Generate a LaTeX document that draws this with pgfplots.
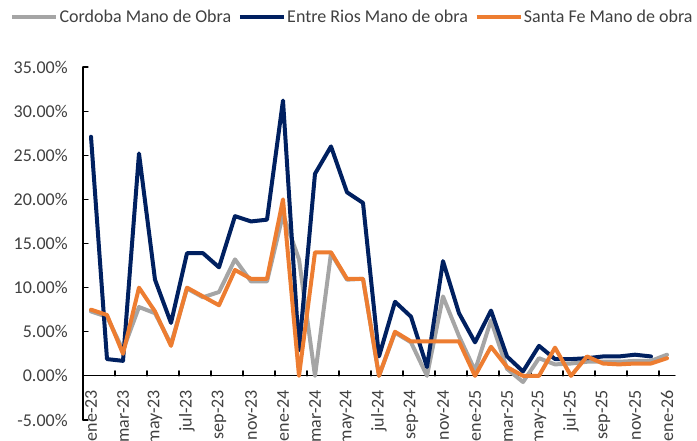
\documentclass[border=0pt]{standalone}
\usepackage{fontspec}
\setmainfont{Carlito}
\usepackage{pgfplots}
\pgfplotsset{compat=1.18}
\definecolor{cgray}{HTML}{A5A5A5}
\definecolor{cnavy}{HTML}{002060}
\definecolor{corange}{HTML}{ED7D31}
\definecolor{textgray}{HTML}{404040}
\begin{document}
\begin{tikzpicture}
\path[use as bounding box] (0,0) rectangle (522.75pt,330.75pt);
\begin{axis}[
  scale only axis,
  width=444pt, height=264.75pt,
  at={(62.25pt,15.75pt)}, anchor=south west,
  xmin=-0.5, xmax=36.5, ymin=-5, ymax=35,
  axis x line=middle, axis y line=left,
  axis line style={-, black, line width=0.9pt},
  every inner x axis line/.append style={-},
  every outer y axis line/.append style={-},
  hide obscured x ticks=false, hide obscured y ticks=false,
  tick align=inside,
  xtick={0,2,...,36},
  xticklabels={ene-23,mar-23,may-23,jul-23,sep-23,nov-23,ene-24,mar-24,may-24,jul-24,sep-24,nov-24,ene-25,mar-25,may-25,jul-25,sep-25,nov-25,ene-26},
  minor xtick={-0.5,1.5,...,35.5},
  every major x tick/.append style={draw=none},
  every minor x tick/.append style={black, line width=0.9pt},
  minor tick length=3.75pt,
  major tick length=3.75pt,
  every major y tick/.append style={black, line width=0.9pt},
  xticklabel style={rotate=90, anchor=east},
  xticklabel shift=7pt,
  ytick={-5,0,...,35},
  yticklabel={\pgfmathprintnumber[fixed,fixed zerofill,precision=2]{\tick}\%},
  yticklabel shift=8pt,
  /pgf/number format/assume math mode=true,
  every tick label/.append style={font=\fontsize{13.5}{16}\selectfont, text=textgray},
  legend columns=3,
  legend style={at={(-0.1233,1.1416)}, anchor=west, draw=none, fill=none,
    inner sep=0pt, font=\fontsize{13.5}{16}\selectfont, text=textgray,
    /tikz/every odd column/.append style={column sep=0pt},
    /tikz/every even column/.append style={column sep=4pt},
    nodes={inner sep=1pt}},
  legend image code/.code={\draw[#1] (0pt,0pt) -- (33pt,0pt);},
  line join=round, line cap=round,
]
\addplot[cgray, line width=3pt] coordinates {
(0,7.3)(1,6.7)(2,2.9)(3,7.8)(4,7.1)(5,3.6)(6,9.9)(7,8.9)(8,9.5)(9,13.2)
(10,10.7)(11,10.7)(12,18.3)(13,13.2)(14,0)(15,13.9)(16,10.9)(17,11.0)(18,0)(19,4.9)
(20,3.8)(21,0)(22,9.0)(23,4.5)(24,0.6)(25,6.3)(26,0.8)(27,-0.7)(28,2.0)(29,1.3)
(30,1.4)(31,1.6)(32,1.6)(33,1.6)(34,1.7)(35,1.7)(36,2.4)};
\addlegendentry{Cordoba Mano de Obra}
\addplot[cnavy, line width=3pt] coordinates {
(0,27.1)(1,1.9)(2,1.7)(3,25.2)(4,10.9)(5,6.0)(6,13.9)(7,13.9)(8,12.3)(9,18.1)
(10,17.5)(11,17.7)(12,31.2)(13,2.9)(14,22.9)(15,26.0)(16,20.8)(17,19.6)(18,2.2)(19,8.4)
(20,6.7)(21,1.0)(22,13.0)(23,7.1)(24,3.8)(25,7.4)(26,2.2)(27,0.5)(28,3.4)(29,1.9)
(30,1.9)(31,2.0)(32,2.2)(33,2.2)(34,2.4)(35,2.2)};
\addlegendentry{Entre Rios Mano de obra}
\addplot[corange, line width=3pt] coordinates {
(0,7.5)(1,6.9)(2,2.5)(3,10.0)(4,7.3)(5,3.4)(6,10.0)(7,9.0)(8,8.0)(9,12.0)
(10,11.0)(11,11.0)(12,20.0)(13,0)(14,14.0)(15,14.0)(16,11.0)(17,11.0)(18,0)(19,5.0)
(20,3.9)(21,3.9)(22,3.9)(23,3.9)(24,0)(25,3.3)(26,1.0)(27,0)(28,0)(29,3.2)
(30,0)(31,2.2)(32,1.4)(33,1.3)(34,1.4)(35,1.4)(36,2.0)};
\addlegendentry{Santa Fe Mano de obra}
\end{axis}
\end{tikzpicture}
\end{document}
